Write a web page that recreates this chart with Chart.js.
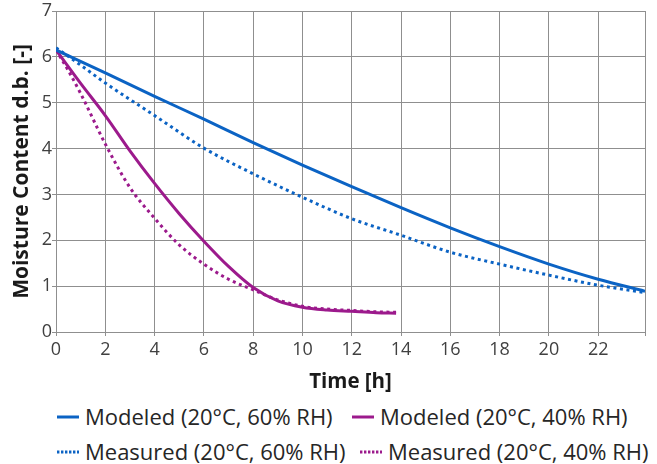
<!DOCTYPE html>
<html>
<head>
<meta charset="utf-8">
<script src="https://cdn.jsdelivr.net/npm/chart.js@4/dist/chart.umd.min.js"></script>
<style>
  html, body { margin: 0; padding: 0; background: #fff; }
  #wrap { position: relative; width: 657px; height: 464px; overflow: hidden; }
  #c { position: absolute; left: 0; top: 0; }
  .row { position: absolute; left: 0; height: 32px; width: 657px; font-family: "Open Sans", sans-serif; font-size: 22px; color: #262626; }
  .item { position: absolute; top: 0; height: 32px; line-height: 32px; white-space: nowrap; }
  .item svg { position: absolute; top: 15px; }
</style>
</head>
<body>
<div id="wrap">
  <canvas id="c" width="657" height="400"></canvas>
  <div id="legend"></div>
</div>
<script>
// ---- Data ----
const xMin = 0;
const xMax = 23.9;
const xTicks = [0, 2, 4, 6, 8, 10, 12, 14, 16, 18, 20, 22];
const yTicks = [0, 1, 2, 3, 4, 5, 6, 7];

const seriesNames = [
  "Modeled (20°C, 60% RH)",
  "Modeled (20°C, 40% RH)",
  "Measured (20°C, 60% RH)",
  "Measured (20°C, 40% RH)"
];

const mod60X = [0, 2, 4, 6, 8, 10, 12, 14, 16, 18, 20, 22, 23.9];
const mod60Y = [6.15, 5.65, 5.14, 4.64, 4.13, 3.64, 3.17, 2.71, 2.27, 1.86, 1.48, 1.15, 0.89];

const meas60X = [0, 1, 2, 4, 6, 8, 10, 12, 14, 16, 18, 20, 22, 23.9];
const meas60Y = [6.20, 5.82, 5.43, 4.72, 4.01, 3.45, 2.94, 2.47, 2.11, 1.74, 1.48, 1.24, 1.02, 0.86];

const mod40X = [0, 1, 2, 3, 4, 5, 6, 7, 8, 9, 10, 11, 12, 13, 13.8];
const mod40Y = [6.15, 5.42, 4.72, 3.95, 3.24, 2.58, 1.98, 1.43, 0.97, 0.68, 0.54, 0.48, 0.45, 0.42, 0.41];

const meas40X = [0, 0.5, 1, 2, 3, 4, 5, 6, 7, 8, 9, 10, 11, 12, 13, 13.8];
const meas40Y = [6.15, 5.70, 5.20, 4.10, 3.15, 2.48, 1.90, 1.48, 1.15, 0.92, 0.70, 0.56, 0.50, 0.47, 0.44, 0.43];

// ---- Styles ----
const BLUE = "#0b63c4";
const PURPLE = "#9c1a8c";
const DOT = [3, 3.6];

function pts(xs, ys) { return xs.map((x, i) => ({ x: x, y: ys[i] })); }

const datasets = [
  { label: seriesNames[0], data: pts(mod60X, mod60Y), borderColor: BLUE, borderWidth: 3, borderDash: [] },
  { label: seriesNames[1], data: pts(mod40X, mod40Y), borderColor: PURPLE, borderWidth: 3, borderDash: [] },
  { label: seriesNames[2], data: pts(meas60X, meas60Y), borderColor: BLUE, borderWidth: 3, borderDash: DOT },
  { label: seriesNames[3], data: pts(meas40X, meas40Y), borderColor: PURPLE, borderWidth: 3, borderDash: DOT }
].map(d => Object.assign(d, {
  pointRadius: 0, pointHoverRadius: 0, fill: false,
  tension: 0.4, cubicInterpolationMode: "monotone", borderCapStyle: "butt"
}));

const GRID = "#8f8f8f";
const TICKC = "#404040";
const FONT = "'Open Sans', sans-serif";

new Chart(document.getElementById("c"), {
  type: "line",
  data: { datasets: datasets },
  options: {
    responsive: false,
    animation: false,
    events: [],
    layout: { padding: { left: 0, top: 11, right: 12, bottom: 0 } },
    plugins: { legend: { display: false }, tooltip: { enabled: false } },
    scales: {
      x: {
        type: "linear", min: xMin, max: xMax,
        afterBuildTicks: s => { s.ticks = xTicks.concat([xMax]).map(v => ({ value: v })); },
        afterFit: s => { s.height = 68; },
        ticks: {
          autoSkip: false, maxRotation: 0, padding: 3, color: TICKC,
          font: { family: FONT, size: 18 },
          callback: v => (xTicks.includes(v) ? String(v) : "")
        },
        grid: { color: GRID, lineWidth: 1, tickLength: 4, drawTicks: true },
        border: { color: GRID, width: 1 },
        title: { display: true, text: "Time [h]", color: "#1a1a1a",
          font: { family: FONT, size: 20.5, weight: "bold" }, padding: { top: 0, bottom: 6 } }
      },
      y: {
        type: "linear", min: 0, max: 7,
        afterBuildTicks: s => { s.ticks = yTicks.map(v => ({ value: v })); },
        afterFit: s => { s.width = 56; },
        ticks: { padding: 0, color: TICKC, font: { family: FONT, size: 18 } },
        grid: { color: GRID, lineWidth: 1, tickLength: 4 },
        border: { color: GRID, width: 1 },
        title: { display: true, text: "Moisture Content d.b. [-]", color: "#1a1a1a",
          font: { family: FONT, size: 21, weight: "bold" }, padding: { top: 9, bottom: 0 } }
      }
    }
  }
});

// ---- Legend (HTML, 2 rows) ----
const legendLayout = [
  { row: 0, marker: 57, text: 85, color: BLUE, dotted: false, name: seriesNames[0] },
  { row: 0, marker: 352, text: 380, color: PURPLE, dotted: false, name: seriesNames[1] },
  { row: 1, marker: 57, text: 85, color: BLUE, dotted: true, name: seriesNames[2] },
  { row: 1, marker: 360, text: 388, color: PURPLE, dotted: true, name: seriesNames[3] }
];
const rowTops = [400, 435];
const legend = document.getElementById("legend");
[0, 1].forEach(r => {
  const row = document.createElement("div");
  row.className = "row";
  row.style.top = rowTops[r] + "px";
  legendLayout.filter(it => it.row === r).forEach(it => {
    const m = document.createElement("div");
    m.className = "item";
    m.style.left = it.marker + "px";
    const dash = it.dotted ? ' stroke-dasharray="2.4 1.6"' : "";
    m.innerHTML = '<svg width="22" height="4"><line x1="0" y1="2" x2="22" y2="2" stroke="' + it.color +
      '" stroke-width="3"' + dash + '/></svg>';
    row.appendChild(m);
    const t = document.createElement("div");
    t.className = "item";
    t.style.left = it.text + "px";
    t.textContent = it.name;
    row.appendChild(t);
  });
  legend.appendChild(row);
});
</script>
</body>
</html>
